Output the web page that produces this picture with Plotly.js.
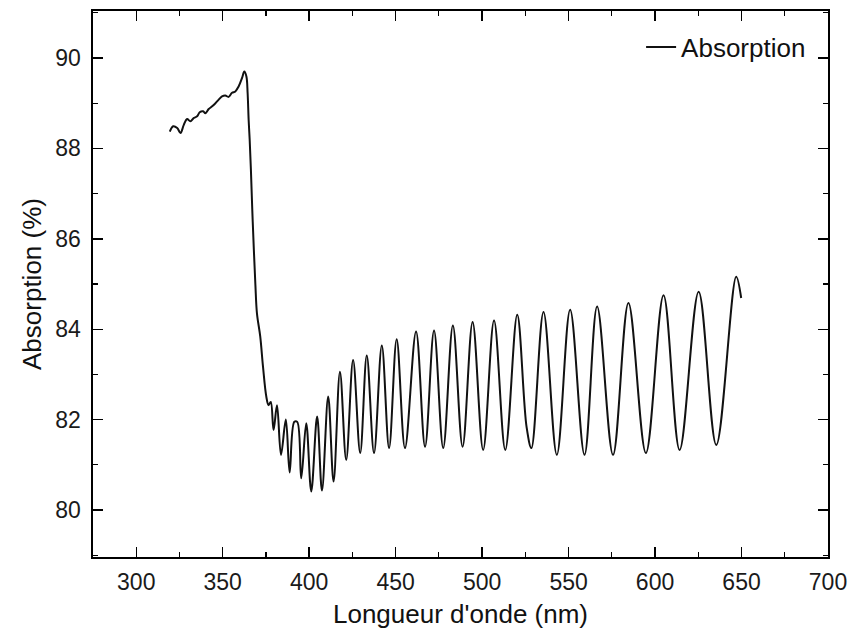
<!DOCTYPE html>
<html>
<head>
<meta charset="utf-8">
<script src="https://cdn.plot.ly/plotly-3.0.1.min.js"></script>
<style>html,body{margin:0;padding:0;background:#fff;}#chart{width:857px;height:635px;}</style>
</head>
<body>
<div id="chart"></div>
<script>
// Wavelength (nm)
const wavelength = [
  319.4, 321.4, 323.7, 325.6, 327.5, 329.4, 331.3, 333.2, 335.2, 336.7,
  338.7, 340.0, 341.9, 343.9, 345.8, 347.7, 349.6, 351.5, 353.4, 355.4,
  357.3, 359.2, 361.2, 362.5, 363.7, 364.4, 365.0, 365.6, 366.3, 367.1,
  368.0, 368.9, 369.8, 371.7, 373.3, 375.2, 376.5, 377.8, 379.4, 381.4,
  383.7, 386.5, 388.7, 391.4, 393.1, 395.4, 398.3, 401.2, 404.6, 407.4,
  411.0, 414.1, 417.8, 421.4, 425.4, 429.5, 433.3, 437.5, 442.0, 446.2,
  450.6, 455.4, 461.8, 467.0, 472.2, 477.5, 483.1, 488.7, 494.5, 500.6,
  506.9, 513.4, 520.3, 525.7, 528.5, 535.5, 543.2, 550.9, 559.2, 566.5,
  575.7, 584.6, 594.7, 604.9, 614.2, 625.2, 635.4, 646.9, 649.8
];
// Absorption (%)
const absorption = [
  88.37, 88.49, 88.45, 88.34, 88.52, 88.65, 88.60, 88.67, 88.71, 88.80,
  88.82, 88.78, 88.87, 88.93, 89.00, 89.08, 89.15, 89.17, 89.14, 89.23,
  89.26, 89.37, 89.56, 89.70, 89.59, 89.23, 88.63, 88.19, 87.53, 86.64,
  85.76, 84.98, 84.35, 83.84, 83.17, 82.51, 82.32, 82.39, 81.77, 82.32,
  81.22, 82.00, 80.83, 81.95, 81.95, 80.70, 81.92, 80.41, 82.07, 80.43,
  82.51, 80.63, 83.06, 81.11, 83.32, 81.26, 83.42, 81.26, 83.64, 81.37,
  83.78, 81.37, 83.95, 81.40, 83.97, 81.37, 84.08, 81.40, 84.16, 81.33,
  84.19, 81.33, 84.32, 81.84, 81.37, 84.38, 81.22, 84.43, 81.22, 84.50,
  81.22, 84.58, 81.26, 84.75, 81.33, 84.83, 81.44, 85.16, 84.69
];
const seriesName = 'Absorption';
const xTickVals = [300, 350, 400, 450, 500, 550, 600, 650, 700];
const yTickVals = [80, 82, 84, 86, 88, 90];

const FONT = '"Liberation Sans", Arial, sans-serif';

const trace = {
  x: wavelength,
  y: absorption,
  type: 'scatter',
  mode: 'lines',
  name: seriesName,
  line: {color: '#111111', width: 2, shape: 'spline', smoothing: 1}
};

const axisCommon = {
  showline: true, linecolor: '#000', linewidth: 1.6, mirror: 'allticks',
  ticks: 'inside', ticklen: 10, tickwidth: 1.4, tickcolor: '#000',
  showgrid: false, zeroline: false,
  tickfont: {family: FONT, size: 23, color: '#1a1a1a'}
};

const layout = {
  width: 857, height: 635,
  paper_bgcolor: '#fff', plot_bgcolor: '#fff',
  margin: {l: 93, r: 29, t: 11, b: 78},
  showlegend: true,
  legend: {
    x: 0.977, xanchor: 'right', y: 0.934, yanchor: 'middle',
    bgcolor: 'rgba(0,0,0,0)', font: {family: FONT, size: 26, color: '#111'}
  },
  xaxis: Object.assign({}, axisCommon, {
    range: [275, 700], tickvals: xTickVals, ticklabelstandoff: 4,
    minor: {dtick: 25, tick0: 275, ticks: 'inside', ticklen: 5, tickwidth: 1.2, tickcolor: '#000'},
    title: {text: "Longueur d'onde (nm)", font: {family: FONT, size: 26, color: '#111'}, standoff: 10}
  }),
  yaxis: Object.assign({}, axisCommon, {
    range: [78.96, 91.04], tickvals: yTickVals, ticklabelstandoff: 6,
    minor: {dtick: 1, tick0: 79, ticks: 'inside', ticklen: 5, tickwidth: 1.2, tickcolor: '#000'},
    title: {text: 'Absorption (%)', font: {family: FONT, size: 26, color: '#111'}, standoff: 6}
  })
};

Plotly.newPlot('chart', [trace], layout, {displayModeBar: false, staticPlot: true});
</script>
</body>
</html>
